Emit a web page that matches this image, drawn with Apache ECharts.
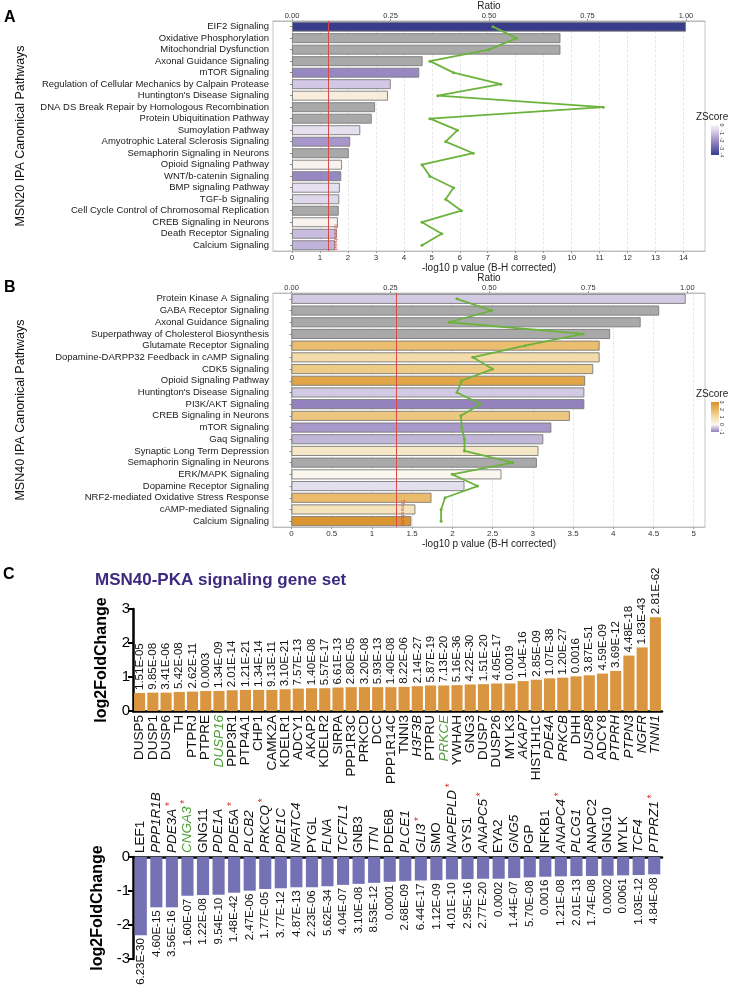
<!DOCTYPE html>
<html><head><meta charset="utf-8">
<script src="https://cdn.jsdelivr.net/npm/echarts@6/dist/echarts.min.js"></script>
<style>html,body{margin:0;padding:0;background:#fff}#c{width:745px;height:999px}</style>
</head><body><div id="c"></div>
<script>
// ---------------- DATA ----------------
const pathwaysA = ['EIF2 Signaling','Oxidative Phosphorylation','Mitochondrial Dysfunction','Axonal Guidance Signaling','mTOR Signaling','Regulation of Cellular Mechanics by Calpain Protease',"Huntington's Disease Signaling",'DNA DS Break Repair by Homologous Recombination','Protein Ubiquitination Pathway','Sumoylation Pathway','Amyotrophic Lateral Sclerosis Signaling','Semaphorin Signaling in Neurons','Opioid Signaling Pathway','WNT/b-catenin Signaling','BMP signaling Pathway','TGF-b Signaling','Cell Cycle Control of Chromosomal Replication','CREB Signaling in Neurons','Death Receptor Signaling','Calcium Signaling'];
const logpA = [14.09, 9.6, 9.6, 4.67, 4.55, 3.53, 3.43, 2.97, 2.85, 2.44, 2.08, 2.03, 1.79, 1.76, 1.71, 1.69, 1.67, 1.64, 1.60, 1.55];
const ratioA = [0.51, 0.57, 0.50, 0.35, 0.41, 0.53, 0.37, 0.79, 0.35, 0.42, 0.39, 0.46, 0.33, 0.35, 0.41, 0.39, 0.43, 0.33, 0.38, 0.33];
const zA = [-4, null, null, null, -2.2, -1.0, 0.5, null, null, -0.5, -1.9, null, 0.2, -2.2, -0.5, -0.65, null, 0.2, -1.2, -1.35];

const pathwaysB = ['Protein Kinase A Signaling','GABA Receptor Signaling','Axonal Guidance Signaling','Superpathway of Cholesterol Biosynthesis','Glutamate Receptor Signaling','Dopamine-DARPP32 Feedback in cAMP Signaling','CDK5 Signaling','Opioid Signaling Pathway',"Huntington's Disease Signaling",'PI3K/AKT Signaling','CREB Signaling in Neurons','mTOR Signaling','Gaq Signaling','Synaptic Long Term Depression','Semaphorin Signaling in Neurons','ERK/MAPK Signaling','Dopamine Receptor Signaling','NRF2-mediated Oxidative Stress Response','cAMP-mediated Signaling','Calcium Signaling'];
const logpB = [4.9, 4.57, 4.34, 3.96, 3.83, 3.83, 3.75, 3.65, 3.64, 3.64, 3.46, 3.23, 3.13, 3.07, 3.05, 2.61, 2.15, 1.74, 1.54, 1.49];
const ratioB = [0.418, 0.506, 0.398, 0.737, 0.59, 0.458, 0.508, 0.43, 0.418, 0.478, 0.428, 0.43, 0.437, 0.437, 0.559, 0.406, 0.47, 0.388, 0.378, 0.378];
const zB = [-0.38, null, null, null, 1.85, 1.0, 1.5, 2.45, -0.38, -1.0, 1.6, -0.8, -0.55, 0.6, null, 0.05, -0.2, 1.9, 0.75, 2.9];

const threshold = 1.3;

const genesUp = ['DUSP5','DUSP1','DUSP6','TH','PTPRJ','PTPRE','DUSP16','PPP3R1','PTP4A1','CHP1','CAMK2A','KDELR1','ADCY1','AKAP2','KDELR2','SIRPA','PPP1R3C','PRKCD','DCC','PPP1R14C','TNNI3','H3F3B','PTPRU','PRKCE','YWHAH','GNG3','DUSP7','DUSP26','MYLK3','AKAP7','HIST1H1C','PDE4A','PRKCB','DHH','DUSP8','ADCY8','PTPRH','PTPN3','NGFR','TNNI1'];
const fcUp = [0.53, 0.54, 0.54, 0.56, 0.57, 0.59, 0.59, 0.61, 0.62, 0.62, 0.62, 0.64, 0.66, 0.67, 0.67, 0.69, 0.70, 0.70, 0.70, 0.70, 0.71, 0.73, 0.75, 0.75, 0.76, 0.78, 0.79, 0.81, 0.81, 0.88, 0.92, 0.96, 0.98, 1.02, 1.05, 1.10, 1.18, 1.63, 1.87, 2.76];
const pUp = ['1.51E-05','9.85E-08','3.41E-06','5.42E-08','2.62E-11','0.0003','1.34E-09','2.01E-14','1.21E-21','1.34E-14','9.13E-11','3.10E-21','7.57E-13','1.40E-08','5.57E-17','6.61E-13','2.80E-05','3.20E-08','5.93E-13','1.40E-08','8.22E-06','2.14E-27','5.87E-19','7.13E-20','5.16E-36','4.22E-30','1.51E-20','4.05E-17','0.0019','1.04E-16','2.85E-09','1.07E-38','1.20E-27','0.0016','3.87E-51','4.59E-09','3.69E-12','4.48E-18','1.83E-43','2.81E-62'];

const genesDown = ['LEF1','PPP1R1B','PDE3A','CNGA3','GNG11','PDE1A','PDE5A','PLCB2','PRKCQ','PDE1C','NFATC4','PYGL','FLNA','TCF7L1','GNB3','TTN','PDE6B','PLCE1','GLI3','SMO','NAPEPLD','GYS1','ANAPC5','EYA2','GNG5','PGP','NFKB1','ANAPC4','PLCG1','ANAPC2','GNG10','MYLK','TCF4','PTPRZ1'];
const fcDown = [-2.3, -1.48, -1.48, -1.14, -1.12, -1.11, -1.05, -0.99, -0.94, -0.92, -0.89, -0.89, -0.86, -0.82, -0.79, -0.76, -0.73, -0.70, -0.69, -0.68, -0.66, -0.65, -0.64, -0.64, -0.62, -0.60, -0.58, -0.57, -0.56, -0.56, -0.55, -0.54, -0.53, -0.51];
const pDown = ['6.23E-30','4.60E-15','3.56E-16','1.60E-07','1.22E-08','9.54E-10','1.48E-42','2.47E-06','1.77E-05','3.77E-12','4.87E-13','2.23E-06','5.62E-34','4.04E-07','3.10E-08','8.53E-12','0.0001','2.68E-09','6.44E-17','1.12E-09','4.01E-10','2.95E-16','2.77E-20','0.0002','1.44E-07','5.70E-08','0.0016','1.21E-08','2.01E-13','1.74E-08','0.0002','0.0061','1.03E-12','4.84E-08'];

const italicGenes = ['H3F3B','AKAP7','PDE4A','PRKCB','DUSP8','PTPRH','PTPN3','NGFR','TNNI1','PPP1R1B','PDE3A','PDE1A','PDE5A','PLCB2','PRKCQ','PDE1C','NFATC4','FLNA','TCF7L1','TTN','PLCE1','GLI3','NAPEPLD','ANAPC5','GNG5','ANAPC4','PLCG1','TCF4','PTPRZ1'];
const greenGenes = ['DUSP16','PRKCE','CNGA3'];
const starGenes = ['PDE3A','CNGA3','PDE5A','PRKCQ','GLI3','NAPEPLD','ANAPC5','ANAPC4','PTPRZ1'];

const ticksLogA = [0,1,2,3,4,5,6,7,8,9,10,11,12,13,14];
const ticksLogB = [0,0.5,1,1.5,2,2.5,3,3.5,4,4.5,5];
const ticksRatio = [0,0.25,0.5,0.75,1];
const legendTicksA = [0,-1,-2,-3,-4];
const legendTicksB = [3,2,1,0,-1];

// ---------------- STYLE HELPERS ----------------
const FONT = '"Liberation Sans", Arial, sans-serif';
const GREY = '#a9a9a9';
const negStopsA = ['#f8f6fa','#d2c7e5','#a291c8','#6c64ab','#393c8b'];
const posStopsA = ['#f8f6fa','#f7e4bd'];
const negStopsB = ['#f8f6fa','#9381bd'];
const posStopsB = ['#fbf8f2','#f3dcaa','#e9b763','#d9912a'];

function hexToRgb(h){ h=h.replace('#',''); return [0,2,4].map(i=>parseInt(h.substr(i,2),16)); }
function scaleColor(stops, t){
  t = Math.max(0, Math.min(1, t));
  const n = stops.length - 1, f = t*n, i = Math.min(Math.floor(f), n-1), u = f - i;
  const a = hexToRgb(stops[i]), b = hexToRgb(stops[i+1]);
  return 'rgb(' + a.map((v,k)=>Math.round(v+(b[k]-v)*u)).join(',') + ')';
}
function zColor(z, negStops, negMin, posStops, posMax){
  if (z === null || z === undefined) return GREY;
  return z < 0 ? scaleColor(negStops, z/negMin) : scaleColor(posStops, z/posMax);
}
const colA = z => zColor(z, negStopsA, -4, posStopsA, 1);
const colB = z => zColor(z, negStopsB, -1, posStopsB, 3);

// ---------------- LAYOUT ----------------
const gridA = {left:273, top:17, width:432, height:234};
const gridB = {left:273, top:293, width:432, height:234};
const gridC1 = {left:133, top:609, width:529, height:102};
const gridC2 = {left:133, top:857, width:529, height:102};

function logAxis(gi, min, max, ticks){
  return {type:'value', gridIndex:gi, position:'bottom', min:min, max:max,
    name:'-log10 p value (B-H corrected)', nameLocation:'middle', nameGap:9,
    nameTextStyle:{fontSize:10, color:'#222', fontFamily:FONT},
    axisLine:{show:true, onZero:false, lineStyle:{color:'#bdbdbd', width:1}},
    axisTick:{show:true, length:2, customValues:ticks, lineStyle:{color:'#999'}},
    axisLabel:{fontSize:8, color:'#333', margin:3, customValues:ticks, fontFamily:FONT},
    splitLine:{show:true, lineStyle:{color:'#e2e2e2', type:'dashed', width:0.8}}};
}
function ratioAxis(gi, min, max){
  return {type:'value', gridIndex:gi, position:'top', min:min, max:max,
    name:'Ratio', nameLocation:'middle', nameGap:8,
    nameTextStyle:{fontSize:10, color:'#222', fontFamily:FONT},
    axisLine:{show:true, onZero:false, lineStyle:{color:'#bdbdbd', width:1}},
    axisTick:{show:true, length:2, customValues:ticksRatio, lineStyle:{color:'#999'}},
    axisLabel:{fontSize:7.5, color:'#333', margin:1, customValues:ticksRatio, fontFamily:FONT, formatter:v=>v.toFixed(2)},
    splitLine:{show:false}};
}
function pathAxis(gi, names, title){
  return {type:'category', gridIndex:gi, data:names, inverse:true,
    name:title, nameLocation:'middle', nameGap:246, nameRotate:90,
    nameTextStyle:{fontSize:12.5, color:'#111', fontFamily:FONT},
    axisLine:{show:true, lineStyle:{color:'#bdbdbd'}},
    axisTick:{show:true, length:2, alignWithLabel:true, lineStyle:{color:'#888'}},
    axisLabel:{interval:0, fontSize:9.5, color:'#1a1a1a', margin:4, fontFamily:FONT},
    splitLine:{show:false}};
}
function barSeries(xi, yi, logp, z, colorFn){
  return {type:'bar', xAxisIndex:xi, yAxisIndex:yi, barCategoryGap:'14%', animation:false,
    data: logp.map((v,i)=>({value:v, itemStyle:{color:colorFn(z[i])}})),
    itemStyle:{borderColor:'#7a7a7a', borderWidth:0.9},
    markLine:{silent:true, symbol:'none', animation:false,
      data:[{xAxis:threshold}],
      lineStyle:{color:'#d94a4a', width:1, type:'solid'},
      label:{show:true, formatter:'Threshold', position:'insideEndTop', fontSize:6, color:'#d94a4a', distance:[1,4]}}};
}
function lineSeries(xi, yi, ratio, names){
  return {type:'line', xAxisIndex:xi, yAxisIndex:yi, animation:false, z:5,
    data: ratio.map((r,i)=>[r, names[i]]),
    symbol:'circle', symbolSize:3, showSymbol:true,
    lineStyle:{color:'#6cb33e', width:1.8}, itemStyle:{color:'#6cb33e'}};
}

function geneFmt(name){
  let s;
  if (greenGenes.includes(name)) s = '{g|' + name + '}';
  else if (italicGenes.includes(name)) s = '{i|' + name + '}';
  else s = '{n|' + name + '}';
  if (starGenes.includes(name)) s += '{s| *}';
  return s;
}
const geneRich = {
  n:{fontSize:13.5, color:'#111', fontFamily:FONT},
  i:{fontSize:13.5, color:'#111', fontStyle:'italic', fontFamily:FONT},
  g:{fontSize:13.5, color:'#4f9d3a', fontStyle:'italic', fontFamily:FONT},
  s:{fontSize:10, color:'#e0261f', fontFamily:FONT, verticalAlign:'top'}
};

function geneXAxis(gi, genes, pos){
  return {type:'category', gridIndex:gi, data:genes, position:pos,
    axisLine:{show:true, onZero:true, lineStyle:{color:'#000', width:2.5}},
    axisTick:{show:true, inside:true, length:4, alignWithLabel:true, lineStyle:{color:'#000', width:1.6}},
    axisLabel:{interval:0, rotate:90, margin:4, formatter:geneFmt, rich:geneRich},
    splitLine:{show:false}};
}
function fcYAxis(gi, min, max){
  return {type:'value', gridIndex:gi, min:min, max:max, interval:1,
    name:'log2FoldChange', nameLocation:'middle', nameGap:23,
    nameTextStyle:{fontSize:16, fontWeight:'bold', color:'#000', fontFamily:FONT},
    axisLine:{show:true, onZero:false, lineStyle:{color:'#000', width:2.5}},
    axisTick:{show:true, length:5, lineStyle:{color:'#000', width:2}},
    axisLabel:{fontSize:15, color:'#000', margin:3, fontFamily:FONT},
    splitLine:{show:false}};
}

// legend gradients generated from the same colour functions
function gradStops(ticks, fn){
  const zMax = ticks[0], zMin = ticks[ticks.length-1];
  const out = [];
  for (let k=0; k<=20; k++){ const z = zMax + (zMin - zMax)*k/20; out.push({offset:k/20, color:fn(z)}); }
  return out;
}
function legendGraphic(top, ticks, fn){
  const h = 30, items = [];
  items.push({type:'text', left:696, top:top, style:{text:'ZScore', fontSize:10, fill:'#222', fontFamily:FONT}});
  items.push({type:'rect', left:711, top:top+13, shape:{width:8, height:h},
    style:{fill:new echarts.graphic.LinearGradient(0,0,0,1, gradStops(ticks, fn))}});
  ticks.forEach((t,k)=>{
    items.push({type:'text', x:722, y:top+13 + h*k/(ticks.length-1), rotation:-Math.PI/2,
      style:{text:String(t), fontSize:5.5, fill:'#333', fontFamily:FONT, align:'center', verticalAlign:'middle'}});
  });
  return items;
}

const chart = echarts.init(document.getElementById('c'), null, {renderer:'canvas'});
const option = {
  backgroundColor:'#fff',
  animation:false,
  textStyle:{fontFamily:FONT},
  grid:[
    Object.assign({show:true, borderColor:'#c4c4c4', borderWidth:1, backgroundColor:'#fff'}, gridA),
    Object.assign({show:true, borderColor:'#c4c4c4', borderWidth:1, backgroundColor:'#fff'}, gridB),
    gridC1, gridC2
  ],
  xAxis:[
    logAxis(0, -0.68, 14.77, ticksLogA),
    ratioAxis(0, -0.68/14.09, 14.77/14.09),
    logAxis(1, -0.23, 5.14, ticksLogB),
    ratioAxis(1, -0.23/4.92, 5.14/4.92),
    geneXAxis(2, genesUp, 'bottom'),
    geneXAxis(3, genesDown, 'top')
  ],
  yAxis:[
    pathAxis(0, pathwaysA, 'MSN20 IPA Canonical Pathways'),
    pathAxis(1, pathwaysB, 'MSN40 IPA Canonical Pathways'),
    fcYAxis(2, 0, 3),
    fcYAxis(3, -3, 0)
  ],
  series:[
    barSeries(0, 0, logpA, zA, colA),
    lineSeries(1, 0, ratioA, pathwaysA),
    barSeries(2, 1, logpB, zB, colB),
    lineSeries(3, 1, ratioB, pathwaysB),
    {type:'bar', xAxisIndex:4, yAxisIndex:2, data:fcUp, barCategoryGap:'16%',
      itemStyle:{color:'#d9953f'},
      label:{show:true, position:'top', rotate:90, align:'left', verticalAlign:'middle', distance:3,
        fontSize:11.5, color:'#111', fontFamily:FONT, formatter:p=>pUp[p.dataIndex]}},
    {type:'bar', xAxisIndex:5, yAxisIndex:3, data:fcDown, barCategoryGap:'22%',
      itemStyle:{color:'#7571b5'},
      label:{show:true, position:'bottom', rotate:90, align:'right', verticalAlign:'middle', distance:3,
        fontSize:11.5, color:'#111', fontFamily:FONT, formatter:p=>pDown[p.dataIndex]}}
  ],
  graphic:[
    {type:'text', left:4, top:10, style:{text:'A', fontSize:16, fontWeight:'bold', fill:'#000', fontFamily:FONT}},
    {type:'text', left:4, top:280, style:{text:'B', fontSize:16, fontWeight:'bold', fill:'#000', fontFamily:FONT}},
    {type:'text', left:3, top:567, style:{text:'C', fontSize:16, fontWeight:'bold', fill:'#000', fontFamily:FONT}},
    {type:'text', left:95, top:572, style:{text:'MSN40-PKA signaling gene set', fontSize:17, fontWeight:'bold', fill:'#3b2a7e', fontFamily:FONT}}
  ].concat(legendGraphic(112, legendTicksA, colA)).concat(legendGraphic(389, legendTicksB, colB))
};
chart.setOption(option);
</script>
</body></html>
